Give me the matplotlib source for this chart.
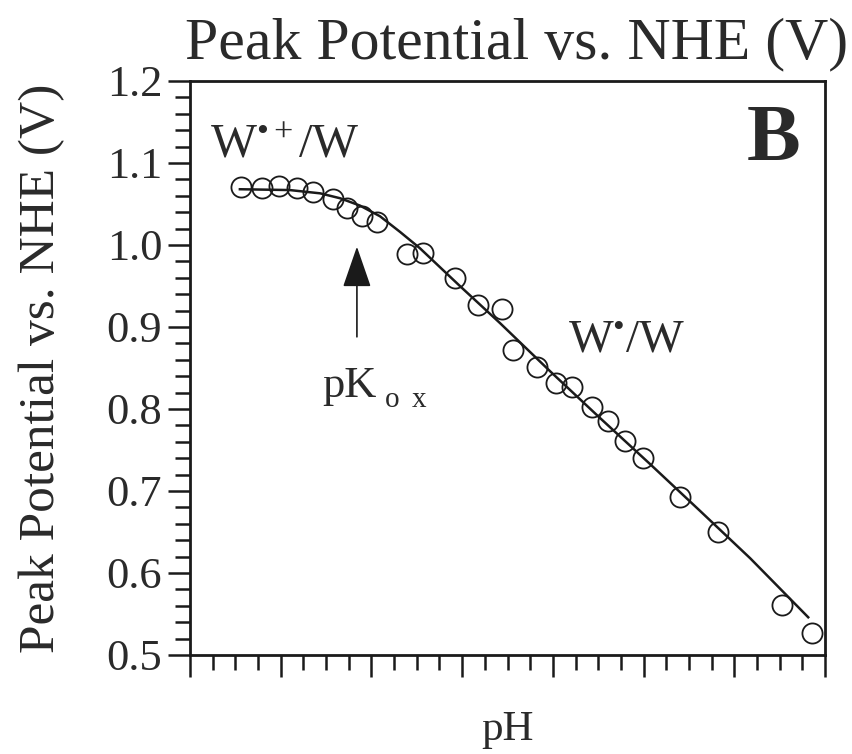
import matplotlib
matplotlib.use("Agg")
import matplotlib.pyplot as plt
from matplotlib.ticker import MultipleLocator, NullFormatter

plt.rcParams['font.family'] = ['Liberation Serif', 'DejaVu Serif']
plt.rcParams['mathtext.fontset'] = 'custom'
plt.rcParams['mathtext.rm'] = 'Liberation Serif'
plt.rcParams['mathtext.it'] = 'Liberation Serif:italic'

# measured points (pH, peak potential V)
ph_points = [1.12, 1.59, 1.96, 2.36, 2.71, 3.15, 3.46, 3.79, 4.12, 4.78, 5.14,
             5.84, 6.35, 6.88, 7.12, 7.65, 8.07, 8.42, 8.86, 9.22, 9.59, 9.99,
             10.80, 11.64, 13.05, 13.71]
e_points = [1.071, 1.070, 1.072, 1.070, 1.065, 1.056, 1.045, 1.035, 1.028, 0.989,
            0.990, 0.960, 0.927, 0.922, 0.872, 0.851, 0.832, 0.827, 0.802, 0.785,
            0.761, 0.740, 0.693, 0.650, 0.561, 0.527]

# fitted curve
ph_fit = [1.10, 2.20, 2.87, 3.31, 3.75, 4.19, 4.63, 5.07, 5.51, 5.95, 6.83,
          7.94, 9.04, 10.14, 11.24, 12.35, 13.63]
e_fit = [1.068, 1.067, 1.063, 1.057, 1.048, 1.035, 1.016, 0.996, 0.973, 0.950,
         0.905, 0.846, 0.789, 0.733, 0.676, 0.618, 0.546]

pk_ox = 3.68

fig = plt.figure(figsize=(8.53, 7.54), dpi=100)
ax = fig.add_axes([190/853, 99/754, 635/853, 574/754])

ax.plot(ph_fit, e_fit, color='#1a1a1a', lw=1.8, zorder=2)
ax.plot(ph_points, e_points, ls='none', marker='o', ms=14.5, mfc='none',
        mec='#1a1a1a', mew=1.3, zorder=3)

ax.set_xlim(0, 14)
ax.set_ylim(0.5, 1.2)
ax.xaxis.set_major_locator(MultipleLocator(2))
ax.xaxis.set_minor_locator(MultipleLocator(0.5))
ax.xaxis.set_major_formatter(NullFormatter())
ax.yaxis.set_major_locator(MultipleLocator(0.1))
ax.yaxis.set_minor_locator(MultipleLocator(0.02))
ax.yaxis.set_major_formatter(plt.FuncFormatter(lambda v, p: f"{v:.1f}"))

ax.tick_params(which='major', direction='out', length=16, width=1.8,
               color='#1a1a1a', labelsize=32, pad=4, labelcolor='#2a2a2a')
ax.tick_params(which='minor', direction='out', length=11, width=1.8, color='#1a1a1a')
for s in ax.spines.values():
    s.set_linewidth(2.0)
    s.set_color('#1a1a1a')

ax.set_ylabel('Peak Potential vs. NHE (V)', fontsize=37, color='#2a2a2a', labelpad=30)
ax.set_xlabel('pH', fontsize=31, color='#2a2a2a', labelpad=20)
ax.set_title('Peak Potential vs. NHE (V)', fontsize=43, color='#2a2a2a', pad=16, x=0.515)

ax.text(0.44, 1.107, 'W$^{\\mathrm{\u2022+}}$/W', fontsize=35, color='#2a2a2a', ha='left', va='baseline')
ax.text(8.33, 0.870, 'W$^{\\mathrm{\u2022}}$/W', fontsize=34, color='#2a2a2a', ha='left', va='baseline')
ax.text(13.45, 1.104, 'B', fontsize=58, fontweight='bold', color='#2a2a2a', ha='right', va='baseline')
ax.text(2.91, 0.815, 'pK', fontsize=32, color='#2a2a2a', ha='left', va='baseline')
ax.text(4.30, 0.802, 'o', fontsize=21, color='#2a2a2a', ha='left', va='baseline')
ax.text(4.89, 0.802, 'x', fontsize=21, color='#2a2a2a', ha='left', va='baseline')

ax.annotate('', xy=(pk_ox, 0.998), xytext=(pk_ox, 0.888),
            arrowprops=dict(arrowstyle='-|>,head_length=2.6,head_width=0.9',
                            mutation_scale=10, lw=1.2, color='#1a1a1a',
                            shrinkA=0, shrinkB=0))

fig.savefig('out.png', dpi=100)
